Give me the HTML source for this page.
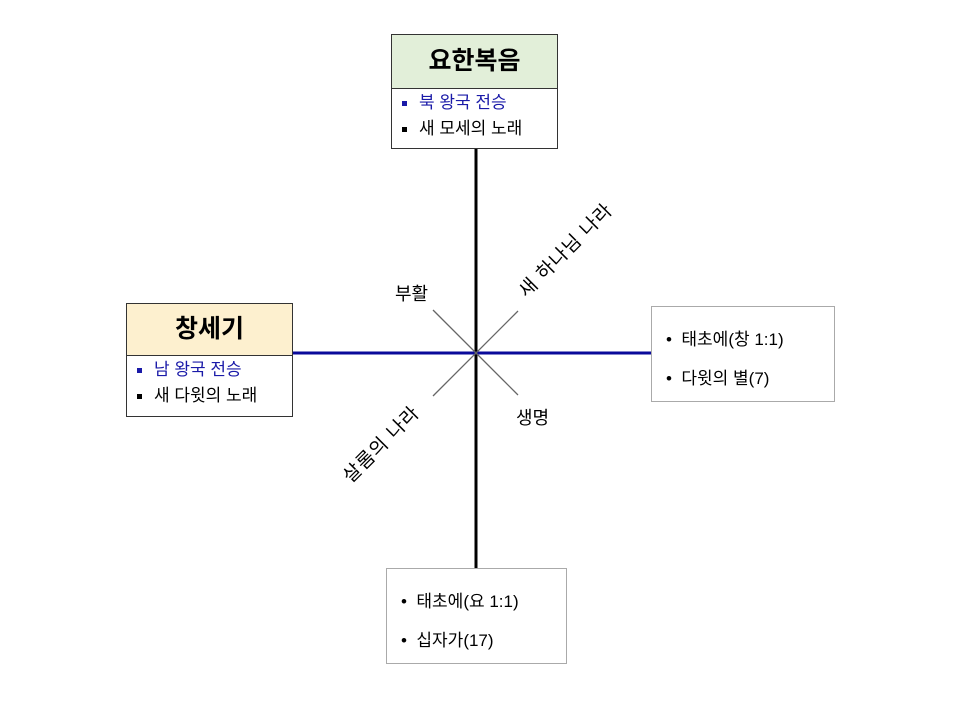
<!DOCTYPE html>
<html><head><meta charset="utf-8"><style>
body{margin:0;width:960px;height:702px;background:#fff;position:relative;overflow:hidden;font-family:"Liberation Sans","Noto Sans CJK KR",sans-serif;}
.a{position:absolute;}
.box{position:absolute;border:1.5px solid #333;background:#fff;box-sizing:border-box;}
.hd{border-bottom:1.5px solid #333;font-weight:bold;font-size:25px;text-align:center;}
.li{font-size:17px;line-height:26px;padding-left:10px;}
.li span{display:inline-block;width:5px;height:5px;margin-right:12px;vertical-align:middle;}
.gb{position:absolute;border:1px solid #aaa;background:#fff;box-sizing:border-box;font-size:17px;}
.gb div{height:39px;line-height:39px;padding-left:14px;}
.rt{position:absolute;font-size:19px;transform:rotate(-45deg);white-space:nowrap;letter-spacing:1px;}
</style></head><body>
<svg class="a" style="left:0;top:0" width="960" height="702">
<line x1="476" y1="148" x2="476" y2="568" stroke="#000" stroke-width="3"/>
<line x1="292" y1="353" x2="651" y2="353" stroke="#0a0a9a" stroke-width="3"/>
<line x1="433" y1="310" x2="518" y2="395" stroke="#666" stroke-width="1.3"/>
<line x1="433" y1="396" x2="518" y2="311" stroke="#666" stroke-width="1.3"/>
</svg>
<div class="box" style="left:391px;top:34px;width:167px;height:115px;">
<div class="hd" style="background:#e2efd9;height:53px;line-height:53px;">요한복음</div>
<div style="padding-top:1px">
<div class="li" style="color:#1a1aa8"><span style="background:#1a1aa8"></span>북 왕국 전승</div>
<div class="li"><span style="background:#000"></span>새 모세의 노래</div></div>
</div>
<div class="box" style="left:126px;top:303px;width:167px;height:114px;">
<div class="hd" style="background:#fdf0cf;height:51px;line-height:51px;">창세기</div>
<div style="padding-top:1px">
<div class="li" style="color:#1a1aa8"><span style="background:#1a1aa8"></span>남 왕국 전승</div>
<div class="li"><span style="background:#000"></span>새 다윗의 노래</div></div>
</div>
<div class="gb" style="left:651px;top:306px;width:184px;height:96px;padding-top:13px;">
<div>•&nbsp;&nbsp;태초에(창 1:1)</div><div>•&nbsp;&nbsp;다윗의 별(7)</div></div>
<div class="gb" style="left:386px;top:568px;width:181px;height:96px;padding-top:13px;">
<div>•&nbsp;&nbsp;태초에(요 1:1)</div><div>•&nbsp;&nbsp;십자가(17)</div></div>
<div class="a" style="left:395px;top:280px;font-size:18px;">부활</div>
<div class="a" style="left:516px;top:404px;font-size:18px;">생명</div>
<div class="rt" style="left:503px;top:236px;">새 하나님 나라</div>
<div class="rt" style="left:331px;top:430px;">살롬의 나라</div>
</body></html>
